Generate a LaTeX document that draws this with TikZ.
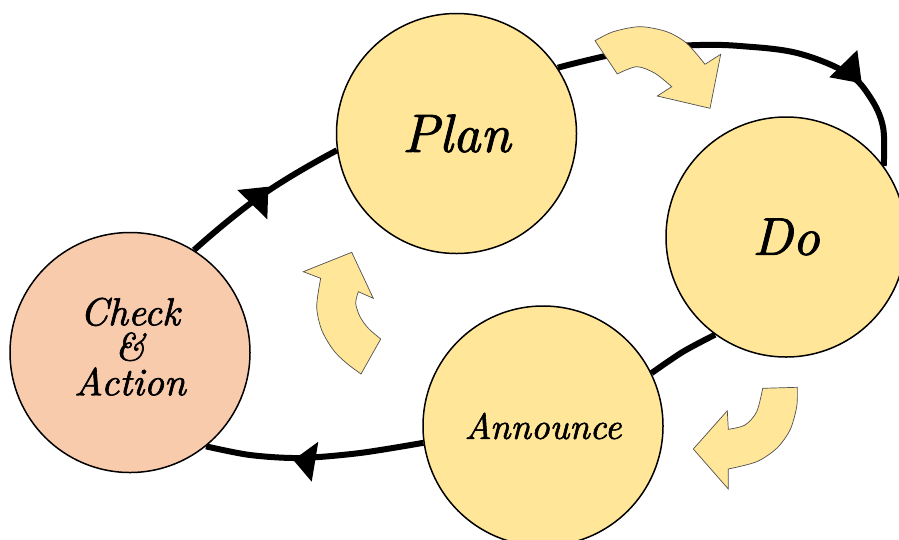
\documentclass[tikz,border=0pt]{standalone}
\usepackage{fontspec}
\newfontfamily\pdcafont{lmroman10-italic}[Extension=.otf, FakeBold=1.6]
\usetikzlibrary{backgrounds}
\definecolor{pdcayellow}{HTML}{FFE699}
\definecolor{pdcaorange}{HTML}{F8CBAD}
\definecolor{arrowedge}{HTML}{505050}
\tikzset{
  stage/.style={circle, draw=black, line width=1.5pt, minimum size=240pt, inner sep=0pt, fill=pdcayellow},
  loopline/.style={line width=6pt, black},
  headtip/.style={fill=black},
  bentarrow/.style={fill=pdcayellow, draw=arrowedge, line width=0.7pt, line join=miter}
}
\begin{document}
\begin{tikzpicture}[x=1pt, y=-1pt]
\clip (0,0) rectangle (899,539);

% stages
\node[stage] (plan) at (456.5,133.5) {\pdcafont\fontsize{54}{60}\selectfont Plan};
\node[stage] (do) at (786,237) {\pdcafont\fontsize{53}{60}\selectfont Do};
\node[stage] (announce) at (543,426) {\pdcafont\fontsize{36.5}{40}\selectfont Announce};
\node[stage, fill=pdcaorange, align=center, font=\pdcafont\fontsize{39}{35}\selectfont] (check) at (130,352.5)
  {Check\\ \&\\ Action\rule[-12pt]{0pt}{0pt}};

% loop connectors (behind the circles)
\begin{pgfonlayer}{background}
\fill[white] (0,0) rectangle (899,539);
\draw[loopline] plot[smooth, tension=0.6] coordinates {(plan.33.6) (580,62) (620,53) (660,47.5) (700,45) (740,46) (797,53) (847,73) (870,97) (883,127) (do.36)};
\draw[loopline] plot[smooth] coordinates {(do.234.7) (683,351.7) (announce.26.9)};
\draw[loopline] plot[smooth] coordinates {(announce.188.2) (360,453) (300,458) (250,455) (check.309)};
\draw[loopline] plot[smooth, tension=0.8] coordinates {(check.58.4) (262,195) (plan.188.3)};
\end{pgfonlayer}

% arrow heads on the loop
\fill[headtip] (857.3,50) -- (829.3,77.3) -- (861.7,83.3) -- cycle;
\fill[headtip] (237.3,190) -- (268.3,186.7) -- (267.3,219.3) -- cycle;
\fill[headtip] (318.3,441.7) -- (293.3,460) -- (311.7,481.7) -- cycle;

% bent block arrows
\draw[bentarrow] plot[smooth] coordinates {(595,40.7) (613.3,31.7) (640,26.7) (666.7,31.7) (686.7,43.3) (705,64.3)}
  -- (720.7,54.3) -- (710,108.3) -- (657.3,96) -- (671.7,86.7)
  -- plot[smooth] coordinates {(671.7,86.7) (655,73.3) (636.7,66.7) (617.3,74)} -- cycle;

\draw[bentarrow] plot[smooth] coordinates {(797.3,387.3) (796.7,406.7) (790,430) (776.7,448.3) (756.7,461.7) (728.3,469)}
  -- (728.3,489) -- (693.3,449) -- (727.3,410.7) -- (728.3,429.3)
  -- plot[smooth] coordinates {(728.3,429.3) (745,425) (756.7,411.7) (762.7,388.3)} -- cycle;

\draw[bentarrow] plot[smooth] coordinates {(320.7,278.3) (316.7,306.7) (321.7,330) (333.3,350) (346.7,363.3) (361,374)}
  -- (380.7,339)
  -- plot[smooth] coordinates {(380.7,339) (368.3,328.3) (360,316.7) (355.7,303.3) (358.3,291.7)}
  -- (373.3,298.3) -- (351.7,252.3) -- (303.3,271.7) -- cycle;
\end{tikzpicture}
\end{document}
